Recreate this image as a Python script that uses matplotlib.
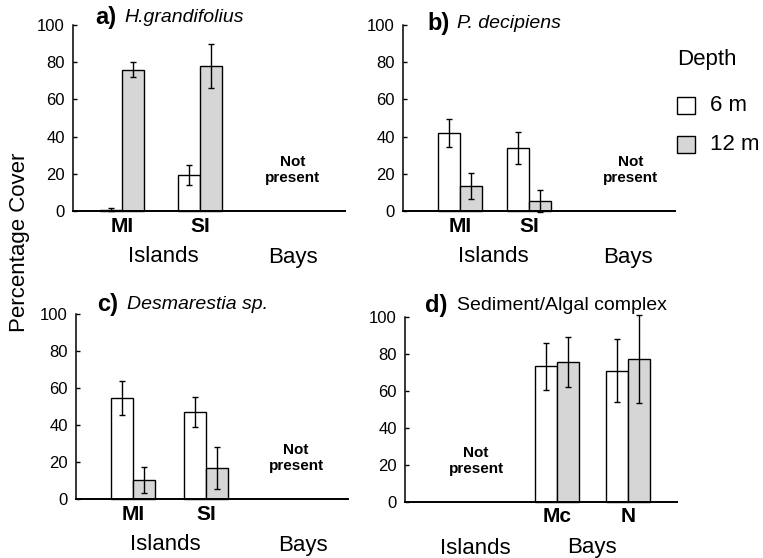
import numpy as np
import matplotlib
matplotlib.use("Agg")
import matplotlib.pyplot as plt
from matplotlib.patches import Rectangle
import matplotlib.transforms as mtransforms

plt.rcParams['font.family'] = ['Liberation Sans', 'DejaVu Sans']

# ---- data (percentage cover, mean and error) ----
sites_islands = ['MI', 'SI']
sites_bays = ['Mc', 'N']

a_cover6 = [0.8, 19.5]
a_err6 = [0.8, 5.3]
a_cover12 = [76, 78]
a_err12 = [4, 11.8]

b_cover6 = [42, 34]
b_err6 = [7.5, 8.5]
b_cover12 = [13.5, 5.4]
b_err12 = [7, 6]

c_cover6 = [54.6, 47]
c_err6 = [9, 8]
c_cover12 = [10.3, 16.8]
c_err12 = [7, 11.5]

d_cover6 = [73.5, 71]
d_err6 = [12.7, 17]
d_cover12 = [75.9, 77.3]
d_err12 = [13.5, 24]

titles = ['H.grandifolius', 'P. decipiens', 'Desmarestia sp.', 'Sediment/Algal complex']
letters = ['a)', 'b)', 'c)', 'd)']
italic = [True, True, True, False]

# ---- layout ----
W, H = 763, 558
fig = plt.figure(figsize=(W / 100, H / 100), dpi=100)

# (left px, zero-line px, top px)
boxes = [(73, 211, 25), (403, 211, 25), (76, 499, 314), (405, 502, 317)]
AXW = 272
BW = 22
group_x = [[49, 127], [57, 126], [57, 130], [152, 223]]
region_x = [(90, 220), (90, 225), (89, 227), (70, 187)]
absent_x = [220, 228, 220, 71]
title_x = [(22, 51), (24, 54), (21, 51), (20, 52)]
title_y = [104, 101, 105, 106]

panels = [
    (sites_islands, a_cover6, a_err6, a_cover12, a_err12),
    (sites_islands, b_cover6, b_err6, b_cover12, b_err12),
    (sites_islands, c_cover6, c_err6, c_cover12, c_err12),
    (sites_bays, d_cover6, d_err6, d_cover12, d_err12),
]

gray = '#d6d6d6'

for i, (sites, v6, e6, v12, e12) in enumerate(panels):
    left, zero, top = boxes[i]
    ax = fig.add_axes([left / W, 1 - zero / H, AXW / W, (zero - top) / H])
    ax.set_xlim(0, AXW)
    ax.set_ylim(0, 100)
    gx = np.array(group_x[i], dtype=float)
    ek = dict(elinewidth=1, capthick=1, ecolor='black', clip_on=False)
    ax.bar(gx - BW / 2, v6, width=BW, facecolor='white', edgecolor='black',
           linewidth=1, yerr=e6, capsize=2, error_kw=ek, clip_on=False, zorder=2)
    ax.bar(gx + BW / 2, v12, width=BW, facecolor=gray, edgecolor='black',
           linewidth=1, yerr=e12, capsize=2, error_kw=ek, clip_on=False, zorder=2)

    for s in ['top', 'right']:
        ax.spines[s].set_visible(False)
    ax.spines['left'].set_linewidth(1.1)
    ax.spines['bottom'].set_linewidth(1.4)
    ax.spines['bottom'].set_zorder(3)
    ax.set_xticks([])
    ax.set_yticks([0, 20, 40, 60, 80, 100])
    ax.tick_params(axis='y', direction='in', length=3, width=1, labelsize=12, pad=6)

    trans = mtransforms.blended_transform_factory(ax.transData, ax.transAxes)
    hpx = zero - top
    for x, s in zip(gx, sites):
        ax.text(x, -15 / hpx, s, transform=trans, ha='center', va='center',
                fontsize=15, fontweight='bold')
    ax.text(region_x[i][0], -46 / hpx, 'Islands', transform=trans,
            ha='center', va='center', fontsize=16)
    ax.text(region_x[i][1], -46 / hpx, 'Bays', transform=trans,
            ha='center', va='center', fontsize=16)
    ax.text(absent_x[i], 22, 'Not\npresent', ha='center', va='center',
            fontsize=11, fontweight='bold', linespacing=1.15)

    ax.text(title_x[i][0], title_y[i], letters[i], ha='left', va='center',
            fontsize=17, fontweight='bold', clip_on=False)
    ax.text(title_x[i][1], title_y[i], titles[i], ha='left', va='center',
            fontsize=14, style='italic' if italic[i] else 'normal', clip_on=False)

fig.text(20 / W, 1 - 242 / H, 'Percentage Cover', rotation=90,
         ha='center', va='center', fontsize=16)

# legend
fig.text(677 / W, 1 - 60 / H, 'Depth', ha='left', va='center', fontsize=16)
for (y0, fc, lab) in [(97, 'white', '6 m'), (136, gray, '12 m')]:
    fig.add_artist(Rectangle((677 / W, 1 - (y0 + 17) / H), 18 / W, 17 / H,
                             transform=fig.transFigure, facecolor=fc,
                             edgecolor='black', linewidth=1))
    fig.text(710 / W, 1 - (y0 + 8.5) / H, lab, ha='left', va='center', fontsize=16)

fig.savefig('out.png', dpi=100)
